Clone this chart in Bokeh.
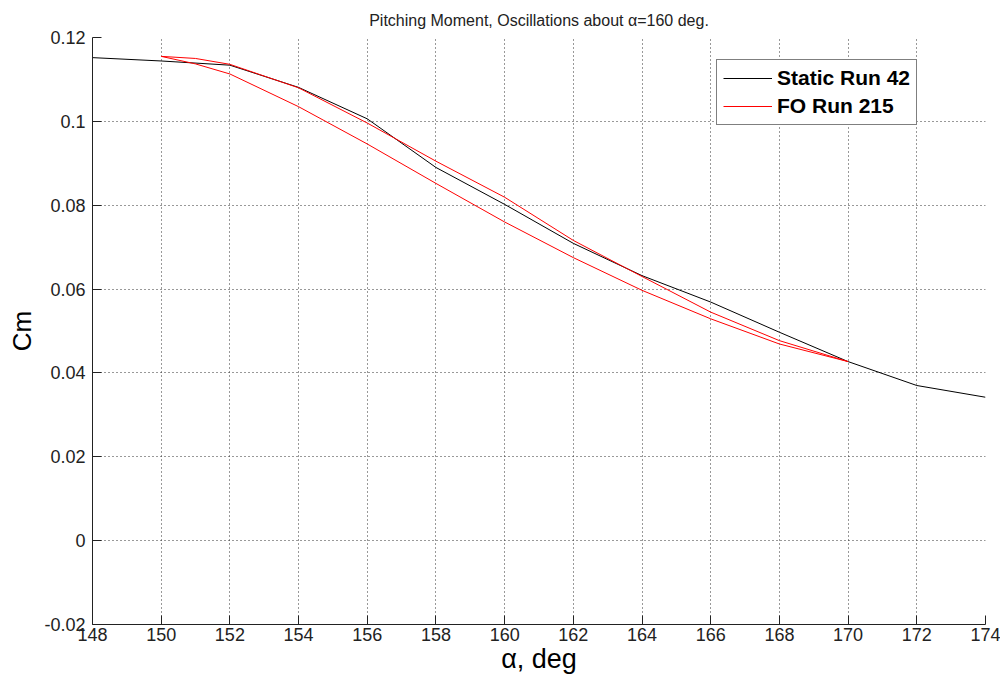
from bokeh.plotting import figure
from bokeh.models import FixedTicker, Range1d, Legend, LegendItem, Title
from bokeh.embed import file_html
from bokeh.resources import INLINE

# ---- data ----
alpha_static = [148, 150, 152, 154, 156, 158, 160, 162, 164, 166, 168, 170, 172, 174]
cm_static = [0.1152, 0.1144, 0.1134, 0.1081, 0.1006, 0.0890, 0.0802, 0.0709,
             0.0632, 0.0569, 0.0497, 0.0427, 0.0370, 0.0342]

alpha_fo_up = [150, 151, 152, 154, 156, 158, 160, 162, 164, 166, 168, 170]
cm_fo_up = [0.1155, 0.1150, 0.1136, 0.1080, 0.0996, 0.0905, 0.0819, 0.0716,
            0.0630, 0.0545, 0.0477, 0.0427]
alpha_fo_down = [170, 168, 166, 164, 162, 160, 158, 156, 154, 152, 151, 150]
cm_fo_down = [0.0427, 0.0469, 0.0529, 0.0597, 0.0675, 0.0760, 0.0852, 0.0946,
              0.1035, 0.1113, 0.1137, 0.1155]

x_ticks = [148, 150, 152, 154, 156, 158, 160, 162, 164, 166, 168, 170, 172, 174]
y_ticks = [-0.02, 0.0, 0.02, 0.04, 0.06, 0.08, 0.1, 0.12]
y_tick_labels = ["-0.02", "0", "0.02", "0.04", "0.06", "0.08", "0.1", "0.12"]

title_text = "Pitching Moment, Oscillations about \u03b1=160 deg."
series_names = ["Static Run 42", "FO Run 215"]

FONT = "Liberation Sans"

p = figure(width=1000, height=682, output_backend="svg", toolbar_location=None,
           x_range=Range1d(148, 174), y_range=Range1d(-0.02, 0.12),
           min_border_left=92, min_border_right=15, min_border_top=37,
           min_border_bottom=58)
p.title = Title(text=title_text, align="center",
                text_font=FONT, text_font_size="16px", text_font_style="normal",
                text_color="#222222", standoff=17)
p.outline_line_color = None
p.background_fill_color = "white"

for ax in (p.xaxis[0], p.yaxis[0]):
    ax.major_tick_in = 9
    ax.major_tick_out = 0
    ax.minor_tick_line_color = None
    ax.axis_line_color = "#222222"
    ax.major_tick_line_color = "#222222"
    ax.major_label_text_font = FONT
    ax.major_label_text_font_size = "18px"
    ax.major_label_text_color = "#222222"
    ax.axis_label_text_font = FONT
    ax.axis_label_text_font_style = "normal"
    ax.axis_label_text_color = "black"

p.xaxis.ticker = FixedTicker(ticks=x_ticks)
p.yaxis.ticker = FixedTicker(ticks=y_ticks)
p.yaxis.major_label_overrides = {t: l for t, l in zip(y_ticks, y_tick_labels)}
p.xaxis.major_label_standoff = 3
p.yaxis.major_label_standoff = 7
p.xaxis.axis_label = "\u03b1, deg"
p.yaxis.axis_label = "Cm"
p.xaxis.axis_label_text_font_size = "27px"
p.yaxis.axis_label_text_font_size = "26px"
p.xaxis.axis_label_standoff = 0
p.yaxis.axis_label_standoff = 4

for g in (p.xgrid[0], p.ygrid[0]):
    g.grid_line_color = "#333333"
    g.grid_line_dash = "1 3"
    g.grid_line_width = 1

r_static = p.line(alpha_static, cm_static, line_color="black", line_width=1)
r_fo = p.line(alpha_fo_up + alpha_fo_down, cm_fo_up + cm_fo_down,
              line_color="#ff0000", line_width=1)

legend = Legend(items=[LegendItem(label=series_names[0], renderers=[r_static]),
                       LegendItem(label=series_names[1], renderers=[r_fo])],
                location=(624, 499), orientation="vertical",
                label_text_font=FONT, label_text_font_size="21px",
                label_text_font_style="bold", label_text_color="black",
                glyph_width=49, glyph_height=24, label_height=24,
                label_standoff=5, spacing=4, padding=6, margin=0,
                border_line_color="black", border_line_width=1,
                background_fill_color="white", background_fill_alpha=1.0)
p.add_layout(legend, "center")

open("out.html", "w").write(file_html(p, INLINE))
